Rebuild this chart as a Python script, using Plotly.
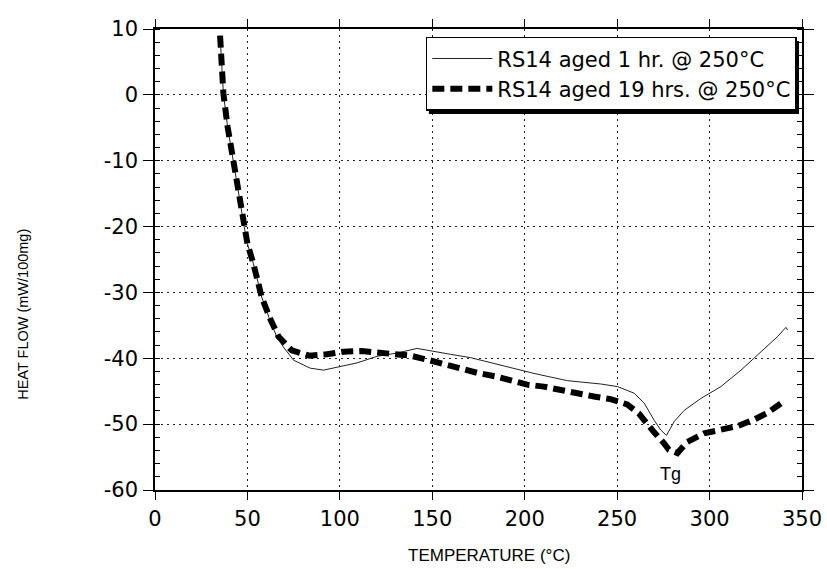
import plotly.graph_objects as go

# ---- data ----
temp_1hr = [35.2, 36.1, 37.0, 39.3, 40.9, 42.4, 45.5, 48.3, 50.0, 53.2, 57.7, 62.3, 66.0,
            69.5, 75.0, 84.0, 91.2, 100.3, 109.3, 120.2, 131.0, 141.8, 150.8, 159.9, 170.7,
            186.9, 205.0, 223.1, 241.1, 250.2, 259.2, 264.6, 270.0, 273.6, 276.7, 280.9,
            286.3, 295.3, 306.1, 317.0, 327.8, 336.8, 341.3, 342.2]
flow_1hr = [9.0, 5.2, 0.2, -4.9, -7.7, -10.2, -15.5, -20.1, -22.6, -25.6, -30.7, -34.3, -36.8,
            -38.3, -40.3, -41.5, -41.8, -41.3, -40.7, -39.7, -39.2, -38.5, -38.9, -39.4, -39.9,
            -41.0, -42.3, -43.4, -43.9, -44.3, -45.3, -46.8, -49.4, -50.9, -51.7, -49.6,
            -47.9, -46.1, -44.3, -41.8, -39.0, -36.7, -35.3, -35.7]

temp_19hr = [35.2, 36.1, 37.0, 39.3, 40.9, 42.4, 45.5, 48.3, 50.0, 53.2, 57.7, 62.3, 66.8,
             74.0, 83.6, 93.0, 102.0, 111.9, 121.8, 130.9, 138.1, 147.1, 156.1, 165.2, 174.2,
             185.0, 192.3, 201.3, 210.3, 220.3, 229.3, 237.4, 246.4, 255.4, 261.8, 266.3,
             269.9, 275.3, 278.0, 282.6, 288.0, 297.0, 306.0, 315.1, 324.1, 331.3, 340.3]
flow_19hr = [9.0, 5.2, 0.2, -4.9, -7.7, -10.2, -15.5, -20.1, -22.6, -25.6, -30.7, -34.0, -36.7,
             -38.8, -39.6, -39.4, -39.0, -38.9, -39.1, -39.4, -39.6, -40.2, -40.9, -41.4, -42.2,
             -42.8, -43.4, -44.0, -44.3, -44.9, -45.3, -45.8, -46.2, -47.0, -48.4, -50.1,
             -51.2, -52.9, -53.9, -54.4, -52.7, -51.4, -50.8, -50.3, -49.3, -48.3, -46.5]

series_names = ["RS14 aged 1 hr. @ 250°C", "RS14 aged 19 hrs. @ 250°C"]

x_ticks = [0, 50, 100, 150, 200, 250, 300, 350]
x_ticklabels = ["0", "50", "100", "150", "200", "250", "300", "350"]
y_ticks = [10, 0, -10, -20, -30, -40, -50, -60]
y_ticklabels = ["10", "0", "-10", "-20", "-30", "-40", "-50", "-60"]

x_title = "TEMPERATURE (°C)"
y_title = "HEAT FLOW (mW/100mg)"
tg_label = "Tg"
tg_pos = (279.0, -57.5)

# ---- figure ----
fig = go.Figure()
fig.add_trace(go.Scatter(x=temp_1hr, y=flow_1hr, mode="lines", name=series_names[0],
                         line=dict(color="#222222", width=1)))
fig.add_trace(go.Scatter(x=temp_19hr, y=flow_19hr, mode="lines", name=series_names[1],
                         line=dict(color="black", width=6, dash="12px,6px")))

tickfont = dict(family="DejaVu Sans", size=21, color="black")
grid = dict(showgrid=True, gridcolor="#222222", gridwidth=1, griddash="2px,4px",
            zeroline=False, showline=True, linecolor="black", linewidth=1.5, automargin=False)

fig.update_xaxes(range=[0, 350], tickmode="array", tickvals=x_ticks, ticktext=x_ticklabels,
                 ticks="outside", ticklen=8, tickcolor="black", mirror="allticks",
                 tickfont=tickfont, ticklabelstandoff=1, **grid)
fig.update_yaxes(range=[-60, 10], tickmode="array", tickvals=y_ticks, ticktext=y_ticklabels,
                 ticks="outside", ticklen=10, tickcolor="black", mirror="allticks",
                 minor=dict(ticks="inside", dtick=2, ticklen=5, tickcolor="black", showgrid=False),
                 tickfont=tickfont, ticklabelstandoff=1, **grid)

fig.add_annotation(x=tg_pos[0], y=tg_pos[1], text=tg_label, showarrow=False,
                   font=dict(family="Liberation Sans", size=18, color="black"))
fig.add_annotation(xref="paper", yref="paper", x=0.516, y=-0.141, xanchor="center", yanchor="middle",
                   text=x_title, showarrow=False,
                   font=dict(family="Liberation Sans", size=17, color="black"))
fig.add_annotation(xref="paper", yref="paper", x=-0.204, y=0.38, xanchor="center", yanchor="middle",
                   text=y_title, textangle=-90, showarrow=False,
                   font=dict(family="Liberation Sans", size=14.5, color="black"))

# legend drop shadow
fig.add_shape(type="rect", xref="paper", yref="paper", x0=0.4233, x1=0.9954, y0=0.8156, y1=0.974,
              fillcolor="black", line=dict(width=0), layer="above")

fig.update_layout(
    width=827, height=569, autosize=False,
    margin=dict(l=155, r=25, t=29, b=79),
    paper_bgcolor="white", plot_bgcolor="white",
    showlegend=True,
    legend=dict(x=0.4186, y=0.983, xanchor="left", yanchor="top",
                bgcolor="white", bordercolor="black", borderwidth=1.5,
                font=dict(family="DejaVu Sans", size=21, color="black"),
                itemwidth=60),
)

# remove the default 8px page margin so the figure sits at the window origin
fig.write_html("out.html", config={"responsive": False, "displayModeBar": False},
               post_script="document.body.style.margin='0';document.body.style.overflow='hidden';")
